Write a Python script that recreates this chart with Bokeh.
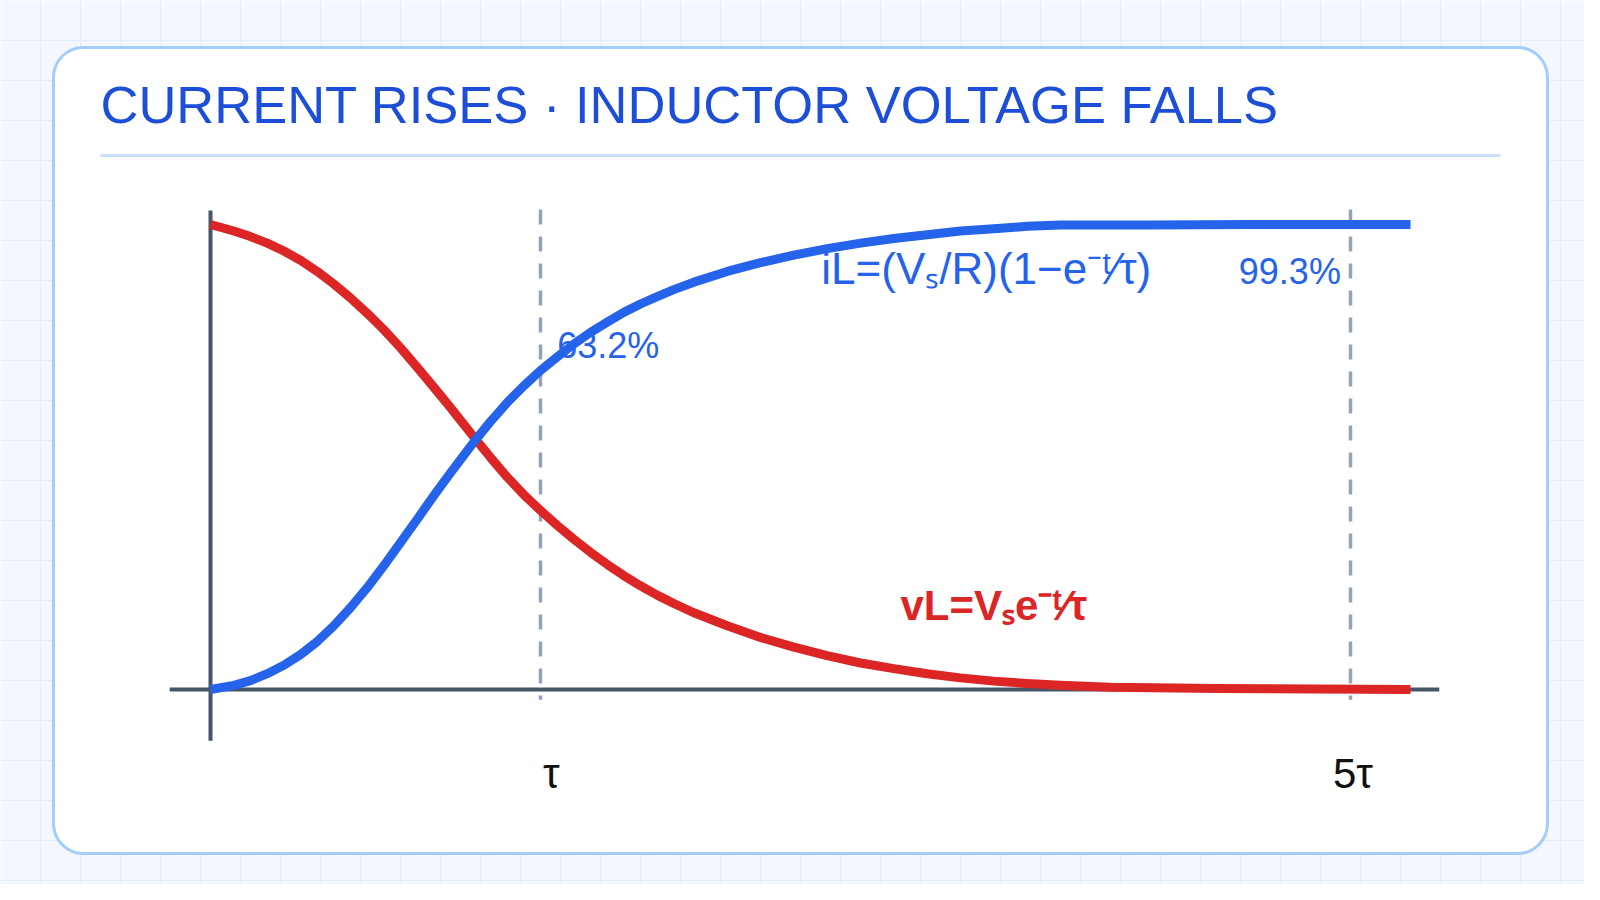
from bokeh.core.properties import value
from bokeh.embed import file_html
from bokeh.models import Range1d
from bokeh.plotting import figure
from bokeh.resources import INLINE

# ---- data (x: share of the drawn time window, 0..100; y: fraction of final value) ----
I_T = [0.0, 1.94, 3.33, 4.73, 6.11, 7.5, 8.89, 10.28, 11.67, 13.06, 14.44, 15.83, 17.22,
       18.61, 20.0, 20.56, 21.94, 23.33, 24.72, 26.11, 27.5, 28.89, 30.28, 31.67, 33.06,
       34.44, 35.83, 37.22, 38.61, 40.28, 43.06, 45.83, 48.61, 51.39, 54.17, 56.94, 59.72,
       62.5, 65.28, 68.06, 70.83, 78.33, 86.67, 100.0]
I_VAL = [0.0, 0.009, 0.019, 0.034, 0.052, 0.075, 0.103, 0.137, 0.176, 0.219, 0.266, 0.316,
         0.366, 0.417, 0.466, 0.485, 0.532, 0.576, 0.617, 0.653, 0.686, 0.715, 0.743, 0.768,
         0.790, 0.811, 0.829, 0.845, 0.860, 0.876, 0.899, 0.918, 0.934, 0.948, 0.960, 0.970,
         0.978, 0.986, 0.991, 0.996, 0.999, 0.999, 1.0, 1.0]

V_T = [0.0, 1.94, 3.33, 4.73, 6.11, 7.5, 8.89, 10.28, 11.67, 13.06, 14.44, 15.83, 17.22,
       18.61, 20.0, 20.56, 21.94, 23.33, 24.72, 26.11, 27.5, 28.89, 30.28, 31.67, 33.06,
       34.44, 35.83, 37.22, 38.61, 40.28, 43.06, 45.83, 48.61, 51.39, 54.17, 56.94, 59.72,
       62.5, 65.28, 68.06, 70.83, 75.0, 83.9, 100.0]
V_VAL = [1.0, 0.986, 0.974, 0.960, 0.943, 0.923, 0.899, 0.872, 0.842, 0.809, 0.774, 0.735,
         0.693, 0.650, 0.606, 0.588, 0.543, 0.499, 0.457, 0.419, 0.385, 0.353, 0.323, 0.295,
         0.269, 0.245, 0.223, 0.203, 0.185, 0.165, 0.137, 0.112, 0.091, 0.073, 0.057, 0.045,
         0.034, 0.025, 0.018, 0.013, 0.009, 0.005, 0.002, 0.0]

MARK_T = [27.5, 95.0]
MARK_LABELS = ["τ", "5τ"]
MARK_LABEL_T = [28.4, 95.2]

TITLE = "CURRENT RISES · INDUCTOR VOLTAGE FALLS"
I_LABEL = "iL=(Vₛ/R)(1−e⁻ᵗ⁄τ)"
V_LABEL = "vL=Vₛe⁻ᵗ⁄τ"
PCT_LABELS = ["63.2%", "99.3%"]

# ---- look ----
W, H = 1584, 884
BG = "#f4f8fe"
GRID = "#e2ecfa"
BLUE = "#2563eb"
RED = "#dc2626"
AXIS = "#475569"
DASH = "#94a3b8"
FONT = value("Liberation Sans")

# chart placement on the page (page pixels)
ORIGIN_X, AXIS_Y = 210, 689
PX_PER_T, PX_PER_VAL = 12.0, 465.0

p = figure(width=W, height=H, x_range=Range1d(0, W), y_range=Range1d(H, 0),
           output_backend="svg", toolbar_location=None, min_border=0)
p.axis.visible = False
p.grid.visible = False
p.outline_line_color = None
p.background_fill_color = BG
p.border_fill_color = BG

# chart ranges, laid over the same frame
p.extra_x_ranges = {"t": Range1d(-ORIGIN_X / PX_PER_T, (W - ORIGIN_X) / PX_PER_T)}
p.extra_y_ranges = {"v": Range1d((AXIS_Y - H) / PX_PER_VAL, AXIS_Y / PX_PER_VAL)}
ck = dict(x_range_name="t", y_range_name="v")

# page grid
gx = list(range(40, W, 40))
gy = list(range(40, H, 40))
p.segment(x0=gx, x1=gx, y0=0, y1=H, line_color=GRID, line_width=1)
p.segment(x0=0, x1=W, y0=gy, y1=gy, line_color=GRID, line_width=1)

# card
p.quad(left=53, right=1547, top=47, bottom=853, border_radius=30,
       fill_color="white", line_color="#a5cdfb", line_width=3)

p.text(x=[100], y=[104], text=[TITLE], text_font=FONT, text_font_size="52.5px",
       text_color="#1d4ed8", text_baseline="alphabetic")
p.line(x=[100, 1500], y=[155, 155], line_color="#c7defc", line_width=3)

# axes
p.line(x=[-3.4, 102.4], y=[0, 0], line_color=AXIS, line_width=4, **ck)
p.line(x=[0, 0], y=[-0.11, 1.03], line_color=AXIS, line_width=4, **ck)

# tau markers (drawn top-down so the dash pattern starts at the top)
for t in MARK_T:
    p.line(x=[t, t], y=[1.032, -0.022], line_color=DASH, line_width=3.5,
           line_dash="15 12", **ck)

# curves
p.line(x=V_T, y=V_VAL, line_color=RED, line_width=9, line_join="round", **ck)
p.line(x=I_T, y=I_VAL, line_color=BLUE, line_width=9, line_join="round", **ck)

# labels
p.text(x=[28.9], y=[0.739], text=[PCT_LABELS[0]], text_font=FONT, text_font_size="36px",
       text_color=BLUE, text_baseline="alphabetic", **ck)
p.text(x=[94.2], y=[0.900], text=[PCT_LABELS[1]], text_font=FONT, text_font_size="36px",
       text_color=BLUE, text_baseline="alphabetic", text_align="right", **ck)
p.text(x=[50.9], y=[0.906], text=[I_LABEL], text_font=FONT, text_font_size="44px",
       text_color=BLUE, text_baseline="alphabetic", **ck)
p.text(x=[57.5], y=[0.181], text=[V_LABEL], text_font=FONT, text_font_size="42px",
       text_font_style="bold", text_color=RED, text_baseline="alphabetic", **ck)
p.text(x=MARK_LABEL_T, y=[-0.181, -0.181], text=MARK_LABELS, text_font=FONT,
       text_font_size="42px", text_color="#111111", text_baseline="alphabetic",
       text_align="center", **ck)

open("out.html", "w").write(file_html(p, INLINE))
